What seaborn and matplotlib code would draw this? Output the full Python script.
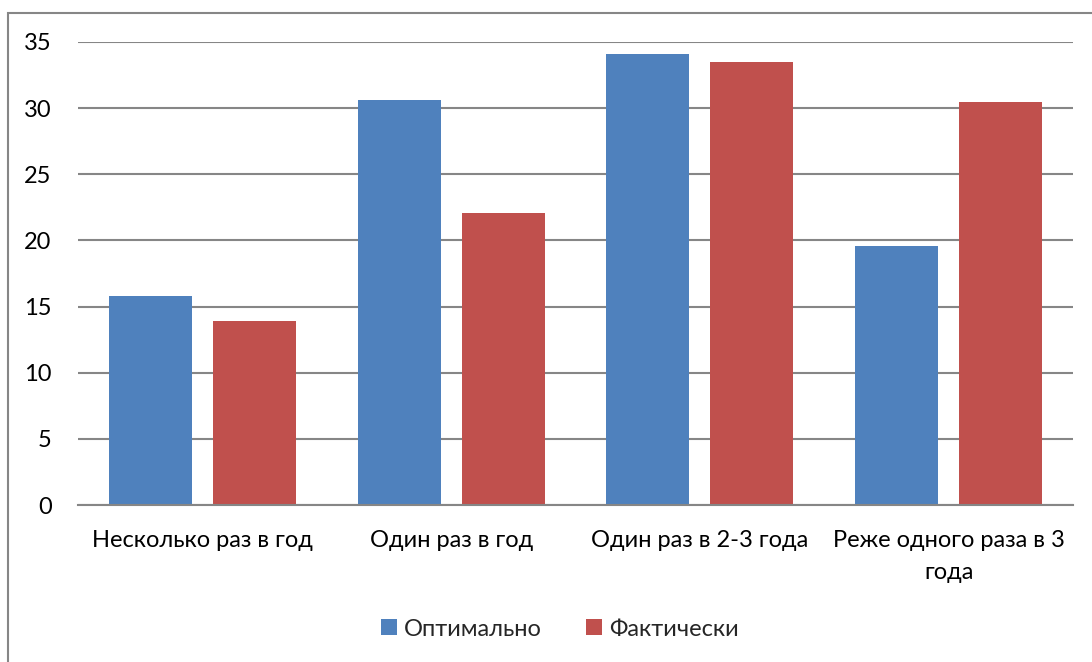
import matplotlib
matplotlib.use("Agg")
import matplotlib.pyplot as plt
import seaborn as sns
import pandas as pd
from matplotlib.patches import Rectangle, Patch

categories = ["Несколько раз в год", "Один раз в год", "Один раз в 2-3 года", "Реже одного раза в 3\nгода"]
optimal = [15.8, 30.6, 34.1, 19.6]
actual = [13.9, 22.1, 33.5, 30.5]
series = ["Оптимально", "Фактически"]
colors = ["#4F81BD", "#C0504D"]

df = pd.DataFrame({
    "cat": categories * 2,
    "val": optimal + actual,
    "series": [series[0]] * 4 + [series[1]] * 4,
})

sns.set_theme(style="white")
plt.rcParams['font.family'] = ['Lato', 'DejaVu Sans']

fig = plt.figure(figsize=(10.92, 6.62), dpi=100)
ax = fig.add_axes([78/1092, 157/662, (1073-78)/1092, (505-42)/662])

sns.barplot(data=df, x="cat", y="val", hue="series", palette=colors,
            width=0.836, gap=0.2, ax=ax, legend=False, saturation=1,
            linewidth=0)

ax.set_ylim(0, 35)
ax.set_xlim(-0.5, 3.5)
ax.set_yticks(range(0, 36, 5))
ax.yaxis.grid(True, color="#868686", linewidth=1.5)
ax.set_axisbelow(True)
for s in ["left", "right", "top"]:
    ax.spines[s].set_visible(False)
ax.spines["bottom"].set_color("#868686")
ax.spines["bottom"].set_linewidth(1.5)
ax.tick_params(axis="both", length=0, labelsize=17, colors="black")
ax.tick_params(axis="y", pad=19)
ax.tick_params(axis="x", pad=18)
for lbl in ax.get_xticklabels():
    lbl.set_linespacing(1.65)
ax.set_xlabel("")
ax.set_ylabel("")

handles = [Patch(facecolor=c, edgecolor="none") for c in colors]
fig.legend(handles, series, loc="center", bbox_to_anchor=(560/1092, 1 - 629/662),
           ncol=2, frameon=False, fontsize=17, handlelength=0.65, handleheight=0.65,
           handletextpad=0.3, columnspacing=1.9)

fig.patches.append(Rectangle((8/1092, -0.1), 1.2, 1 - 13/662 + 0.1,
                             transform=fig.transFigure, fill=False,
                             edgecolor="#868686", linewidth=1.5))

fig.savefig("out.png", dpi=100)
